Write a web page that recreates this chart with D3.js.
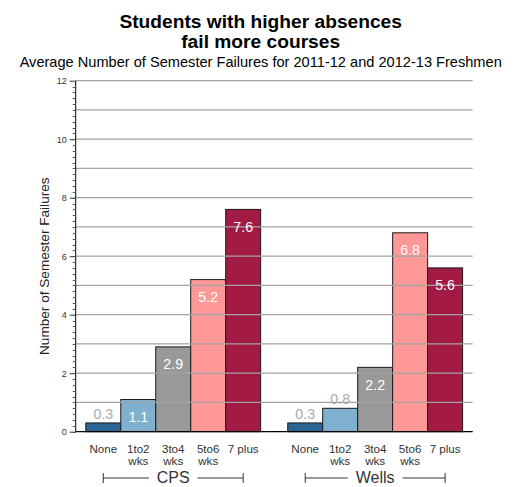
<!DOCTYPE html>
<html>
<head>
<meta charset="utf-8">
<script src="https://cdn.jsdelivr.net/npm/d3@7"></script>
<style>
  html, body { margin: 0; padding: 0; background: #fff; }
  svg { display: block; font-family: "Liberation Sans", Arial, sans-serif; }
</style>
</head>
<body>
<svg id="chart" width="515" height="487"></svg>
<script>
// Average semester failures by absence band, for two school groups
const groups = ["CPS", "Wells"];
const categories = ["None", "1to2 wks", "3to4 wks", "5to6 wks", "7 plus"];
const cpsValues = [0.3, 1.1, 2.9, 5.2, 7.6];
const wellsValues = [0.3, 0.8, 2.2, 6.8, 5.6];
const barColors = ["#2b6593", "#80b0d0", "#999999", "#ff9896", "#a31a45"];
const yTicks = [0, 2, 4, 6, 8, 10, 12];

const seriesByGroup = { CPS: cpsValues, Wells: wellsValues };

const svg = d3.select("#chart");
const plotLeft = 75.7, plotRight = 472.7, plotTop = 80.7, plotBottom = 431.7;

const x0 = d3.scaleBand().domain(groups).range([plotLeft, plotRight])
  .paddingInner(0.134).paddingOuter(0.05);
const x1 = d3.scaleBand().domain(categories).range([0, x0.bandwidth()]).padding(0);
const y = d3.scaleLinear().domain([0, 12]).range([plotBottom, plotTop]);

// Titles
svg.append("text").attr("x", 260.7).attr("y", 28).attr("text-anchor", "middle")
  .attr("font-size", 19.2).attr("font-weight", "bold").attr("fill", "#000")
  .text("Students with higher absences");
svg.append("text").attr("x", 260.7).attr("y", 47.5).attr("text-anchor", "middle")
  .attr("font-size", 19.2).attr("font-weight", "bold").attr("fill", "#000")
  .text("fail more courses");
svg.append("text").attr("x", 260.7).attr("y", 67).attr("text-anchor", "middle")
  .attr("font-size", 14.6).attr("fill", "#000")
  .text("Average Number of Semester Failures for 2011-12 and 2012-13 Freshmen");

// Bars
const rows = groups.flatMap(g => categories.map((c, i) => ({ g, c, i, v: seriesByGroup[g][i] })));
const barG = svg.append("g");
barG.selectAll("rect").data(rows).join("rect")
  .attr("x", d => x0(d.g) + x1(d.c))
  .attr("y", d => y(d.v))
  .attr("width", x1.bandwidth())
  .attr("height", d => y(0) - y(d.v))
  .attr("fill", d => barColors[d.i])
  .attr("stroke", "#1a1a1a")
  .attr("stroke-width", 1);

// Horizontal gridlines over the bars
const gridG = svg.append("g");
gridG.selectAll("line").data(d3.range(1, 13)).join("line")
  .attr("x1", plotLeft).attr("x2", plotRight)
  .attr("y1", d => y(d)).attr("y2", d => y(d))
  .attr("stroke", "#a3a3a3").attr("stroke-width", 1.2);

// Value labels: inside tall bars, above short ones
svg.append("g").selectAll("text").data(rows).join("text")
  .attr("x", d => x0(d.g) + x1(d.c) + x1.bandwidth() / 2)
  .attr("y", d => (y(0) - y(d.v)) > 28 ? y(d.v) + 22.5 : y(d.v) - 4)
  .attr("text-anchor", "middle")
  .attr("font-size", 14.2)
  .attr("fill", d => (y(0) - y(d.v)) > 28 ? "#ffffff" : "#aaaaaa")
  .text(d => d3.format(".1f")(d.v));

// Y axis with major and minor ticks
const yAxisG = svg.append("g").attr("transform", `translate(${plotLeft},0)`);
yAxisG.call(d3.axisLeft(y).tickValues(yTicks).tickSize(6).tickPadding(3).tickFormat(d3.format("d")));
yAxisG.select(".domain").attr("stroke", "#000").attr("d", `M0,${plotTop}V${plotBottom}`);
yAxisG.selectAll(".tick line").attr("stroke", "#333");
yAxisG.selectAll(".tick text").attr("font-size", 9).attr("fill", "#333")
  .attr("font-family", "Liberation Sans, Arial, sans-serif");
yAxisG.selectAll(".minor").data(d3.range(0, 60).map(i => i * 0.2)).join("line")
  .attr("class", "minor")
  .attr("x1", -3).attr("x2", 0)
  .attr("y1", d => Math.round(y(d)) + 0.5).attr("y2", d => Math.round(y(d)) + 0.5)
  .attr("stroke", "#555").attr("stroke-width", 1);

// Baseline
svg.append("line").attr("x1", plotLeft).attr("x2", plotRight)
  .attr("y1", plotBottom).attr("y2", plotBottom).attr("stroke", "#000").attr("stroke-width", 1.3);

// Y axis title
svg.append("text")
  .attr("transform", `translate(49,${(plotTop + plotBottom) / 2 + 10}) rotate(-90)`)
  .attr("text-anchor", "middle").attr("font-size", 13.6).attr("fill", "#222")
  .text("Number of Semester Failures");

// Category labels, two lines
const catG = svg.append("g");
rows.forEach(d => {
  const cx = x0(d.g) + x1(d.c) + x1.bandwidth() / 2;
  const lines = d.c === "7 plus" ? [d.c] : d.c.split(" ");
  const t = catG.append("text").attr("text-anchor", "middle")
    .attr("font-size", 11.6).attr("fill", "#333");
  lines.forEach((ln, k) => {
    t.append("tspan").attr("x", cx).attr("y", 452.5 + k * 12.6).text(ln);
  });
});

// Group brackets under each cluster
groups.forEach(g => {
  const xa = x0(g) + x1(categories[0]) + x1.bandwidth() / 2;
  const xb = x0(g) + x1(categories[categories.length - 1]) + x1.bandwidth() / 2;
  const xm = (xa + xb) / 2;
  const ly = 478;
  const bg = svg.append("g").attr("stroke", "#333").attr("stroke-width", 1);
  const label = svg.append("text").attr("x", xm).attr("y", 483.3).attr("text-anchor", "middle")
    .attr("font-size", 16).attr("fill", "#333").text(g);
  const half = label.node().getComputedTextLength() / 2 + 8;
  bg.append("line").attr("x1", xa).attr("x2", xm - half).attr("y1", ly).attr("y2", ly);
  bg.append("line").attr("x1", xm + half).attr("x2", xb).attr("y1", ly).attr("y2", ly);
  bg.append("line").attr("x1", xa).attr("x2", xa).attr("y1", ly - 5).attr("y2", ly + 5);
  bg.append("line").attr("x1", xb).attr("x2", xb).attr("y1", ly - 5).attr("y2", ly + 5);
});
</script>
</body>
</html>
